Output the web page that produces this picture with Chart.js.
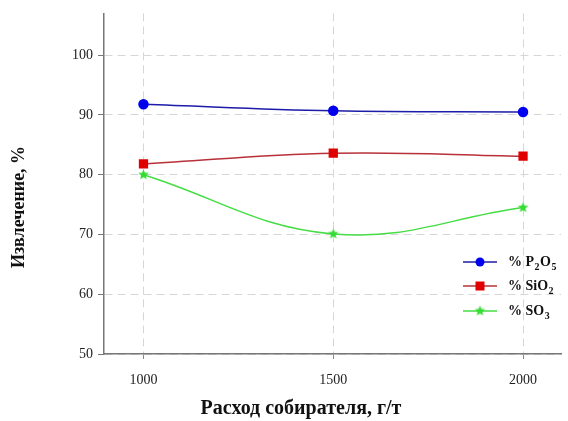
<!DOCTYPE html>
<html>
<head>
<meta charset="utf-8">
<script src="https://cdn.jsdelivr.net/npm/chart.js@4/dist/chart.umd.min.js"></script>
<style>
  html, body { margin: 0; padding: 0; background: #fff; }
  #wrap { width: 568px; height: 421px; }
</style>
</head>
<body>
<div id="wrap"><canvas id="c" width="568" height="421"></canvas></div>
<script>
// Collector dosage, g/t
const dosage = [1000, 1500, 2000];
// Recovery, %
const recoveryP2O5 = [91.8, 90.7, 90.5];
const recoverySiO2 = [81.8, 83.6, 83.1];
const recoverySO3 = [80.0, 70.1, 74.5];

const xTicks = [1000, 1500, 2000];
const yTicks = [50, 60, 70, 80, 90, 100];

// legend labels: [text, subscript] fragments
const legendP2O5 = [['% P', false], ['2', true], ['O', false], ['5', true]];
const legendSiO2 = [['% SiO', false], ['2', true]];
const legendSO3 = [['% SO', false], ['3', true]];

const xTitle = 'Расход собирателя, г/т';
const yTitle = 'Извлечение, %';

const SERIF = '"Liberation Serif", "DejaVu Serif", serif';

// filled five-point star used as the SO3 marker
function makeStar(r, color) {
  const c = document.createElement('canvas');
  const s = Math.ceil(r * 2 + 2);
  c.width = s; c.height = s;
  const g = c.getContext('2d');
  g.translate(s / 2, s / 2);
  g.beginPath();
  for (let i = 0; i < 10; i++) {
    const rr = i % 2 === 0 ? r : r * 0.45;
    const a = -Math.PI / 2 + i * Math.PI / 5;
    const px = rr * Math.cos(a), py = rr * Math.sin(a);
    if (i === 0) g.moveTo(px, py); else g.lineTo(px, py);
  }
  g.closePath();
  g.fillStyle = color;
  g.fill();
  return c;
}
const starImg = makeStar(5.5, '#33dd33');

const toXY = (ys) => dosage.map((x, i) => ({ x, y: ys[i] }));

const series = [
  { data: toXY(recoveryP2O5), line: '#1c1ca8', fill: '#0000ee', style: 'circle', r: 4.5, legend: legendP2O5 },
  { data: toXY(recoverySiO2), line: '#b8303a', fill: '#e00000', style: 'rect', r: 5.5, legend: legendSiO2 },
  { data: toXY(recoverySO3), line: '#44dd44', fill: '#33dd33', style: starImg, r: 5.5, legend: legendSO3 }
];

// axis titles and in-plot legend
const annotations = {
  id: 'annotations',
  afterDraw(chart) {
    const ctx = chart.ctx;
    const a = chart.chartArea;
    ctx.save();
    ctx.fillStyle = '#111';
    ctx.textAlign = 'center';
    ctx.textBaseline = 'middle';
    ctx.font = 'bold 20px ' + SERIF;
    ctx.fillText(xTitle, 301, 409);
    ctx.save();
    ctx.translate(19, 207);
    ctx.rotate(-Math.PI / 2);
    ctx.font = 'bold 18px ' + SERIF;
    ctx.fillText(yTitle, 0, 0);
    ctx.restore();

    // legend
    const lx = a.right - 98;
    const rows = [262, 286, 311];
    chart.data.datasets.forEach((ds, i) => {
      const s = series[i];
      const y = rows[i];
      ctx.strokeStyle = s.line;
      ctx.lineWidth = 1.5;
      ctx.beginPath();
      ctx.moveTo(lx, y);
      ctx.lineTo(lx + 34, y);
      ctx.stroke();
      const cx = lx + 17;
      ctx.fillStyle = s.fill;
      if (s.style === 'circle') {
        ctx.beginPath(); ctx.arc(cx, y, 4.5, 0, Math.PI * 2); ctx.fill();
      } else if (s.style === 'rect') {
        ctx.fillRect(cx - 4.5, y - 4.5, 9, 9);
      } else {
        ctx.drawImage(s.style, cx - s.style.width / 2, y - s.style.height / 2);
      }
      let tx = lx + 45;
      ctx.fillStyle = '#111';
      ctx.textAlign = 'left';
      ctx.textBaseline = 'alphabetic';
      s.legend.forEach(([t, sub]) => {
        ctx.font = sub ? 'bold 10px ' + SERIF : 'bold 14px ' + SERIF;
        ctx.fillText(t, tx, sub ? y + 8 : y + 4);
        tx += ctx.measureText(t).width + 0.5;
      });
    });
    ctx.restore();
  }
};

new Chart(document.getElementById('c'), {
  type: 'line',
  data: {
    datasets: series.map(s => ({
      data: s.data,
      borderColor: s.line,
      borderWidth: 1.5,
      backgroundColor: s.fill,
      pointBackgroundColor: s.fill,
      pointBorderColor: s.fill,
      pointStyle: s.style,
      pointRadius: s.r,
      tension: 0.4,
      fill: false
    }))
  },
  options: {
    responsive: false,
    animation: false,
    devicePixelRatio: 1,
    layout: { padding: { left: 0, right: 2, top: 12, bottom: 0 } },
    plugins: { legend: { display: false }, tooltip: { enabled: false } },
    scales: {
      x: {
        type: 'linear',
        min: 896,
        max: 2100,
        afterBuildTicks: (sc) => { sc.ticks = xTicks.map(v => ({ value: v })); },
        afterFit: (sc) => { sc.height = 67; },
        grid: {
          color: '#d6d6d6',
          tickColor: '#888',
          tickBorderDash: [],
          tickLength: 5,
          lineWidth: 1
        },
        border: { color: '#777', width: 1.5, dash: [8, 5] },
        ticks: {
          color: '#222',
          font: { family: SERIF, size: 14 },
          padding: 13,
          maxRotation: 0,
          callback: (v) => String(v)
        }
      },
      y: {
        min: 50,
        max: 107,
        afterBuildTicks: (sc) => { sc.ticks = yTicks.map(v => ({ value: v })); },
        afterFit: (sc) => { sc.width = 104; },
        grid: {
          color: '#d6d6d6',
          tickColor: '#777',
          tickBorderDash: [],
          tickLength: 6,
          lineWidth: 1
        },
        border: { color: '#777', width: 1.5, dash: [8, 5] },
        ticks: {
          color: '#222',
          font: { family: SERIF, size: 14 },
          padding: 5,
          callback: (v) => String(v)
        }
      }
    }
  },
  plugins: [annotations]
});
</script>
</body>
</html>
